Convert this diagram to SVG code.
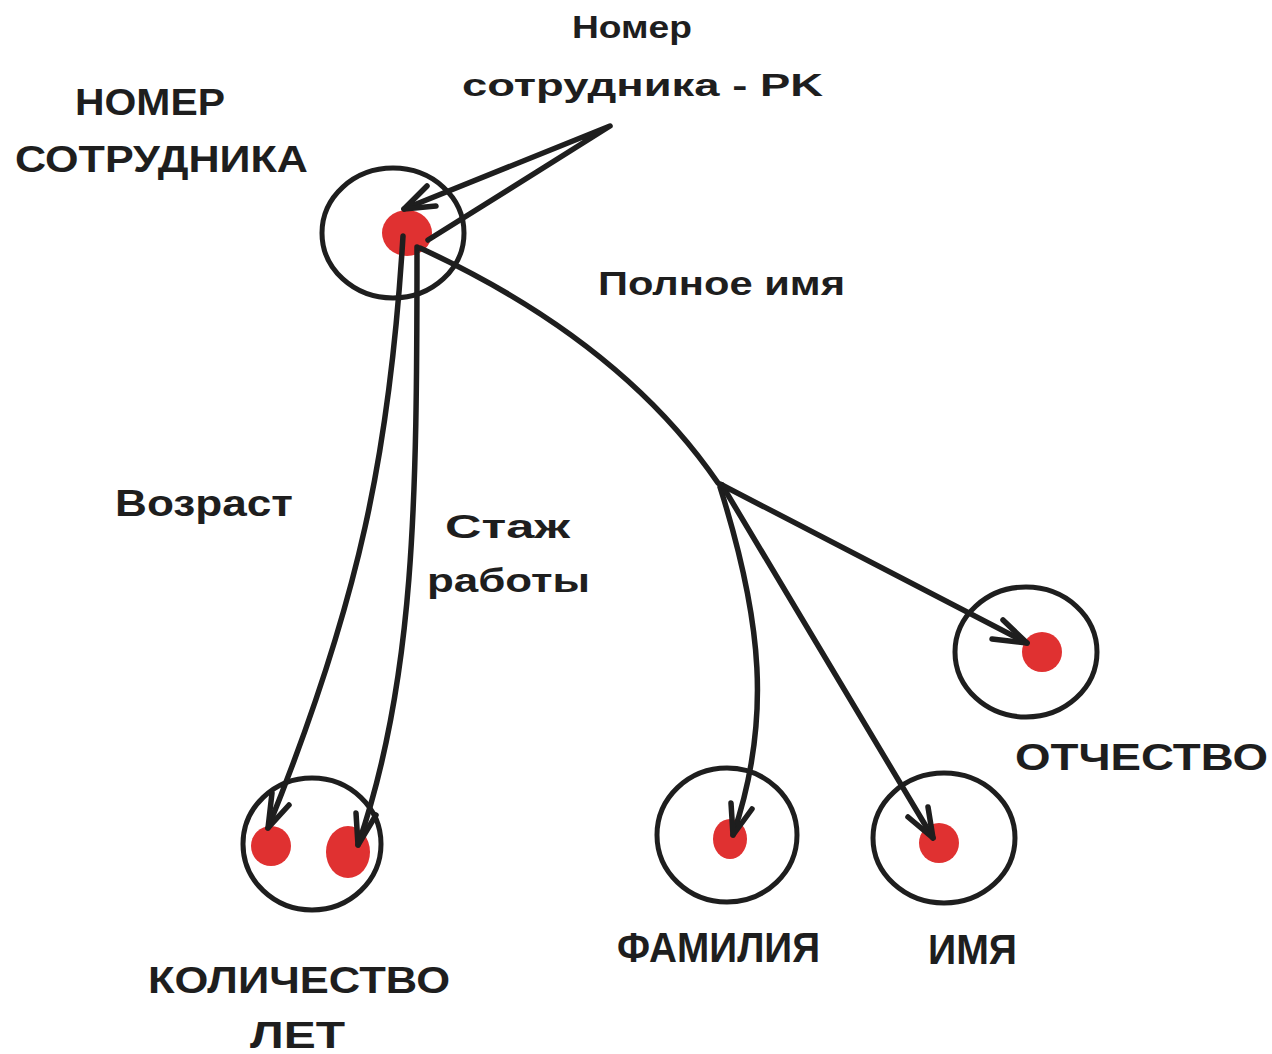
<svg xmlns="http://www.w3.org/2000/svg" width="1272" height="1054" viewBox="0 0 1272 1054">
  <style>
    .ring { fill: none; stroke: #1e1e1e; stroke-width: 5; }
    .dot { fill: #e03131; }
    .edge { fill: none; stroke: #1e1e1e; stroke-width: 5.5; stroke-linecap: round; stroke-linejoin: round; }
    .label { font-family: "Liberation Sans", "DejaVu Sans", sans-serif; font-weight: 700; fill: #1e1e1e; }
  </style>
  <rect width="1272" height="1054" fill="#ffffff"/>

  <!-- attribute holder: employee number -->
  <g id="node-employee">
    <ellipse class="ring" cx="393" cy="233" rx="71" ry="65"/>
    <ellipse class="dot" cx="407" cy="233" rx="25" ry="23"/>
    <text class="label" x="75" y="115" font-size="36" textLength="150" lengthAdjust="spacingAndGlyphs">НОМЕР</text>
    <text class="label" x="15" y="172" font-size="36" textLength="293" lengthAdjust="spacingAndGlyphs">СОТРУДНИКА</text>
  </g>

  <!-- years: age and work experience -->
  <g id="node-years">
    <ellipse class="ring" cx="312" cy="844" rx="69" ry="66"/>
    <ellipse class="dot" cx="271" cy="846" rx="20" ry="20"/>
    <ellipse class="dot" cx="348" cy="852" rx="22" ry="26"/>
    <text class="label" x="148" y="993" font-size="36" textLength="302" lengthAdjust="spacingAndGlyphs">КОЛИЧЕСТВО</text>
    <text class="label" x="250" y="1048" font-size="36" textLength="95" lengthAdjust="spacingAndGlyphs">ЛЕТ</text>
  </g>

  <g id="node-surname">
    <ellipse class="ring" cx="727" cy="835" rx="70" ry="67"/>
    <ellipse class="dot" cx="730" cy="839" rx="17" ry="20"/>
    <text class="label" x="617" y="962" font-size="42" textLength="203" lengthAdjust="spacingAndGlyphs">ФАМИЛИЯ</text>
  </g>

  <g id="node-name">
    <ellipse class="ring" cx="944" cy="838" rx="71" ry="65"/>
    <ellipse class="dot" cx="939" cy="843" rx="20" ry="20"/>
    <text class="label" x="928" y="964" font-size="42" textLength="89" lengthAdjust="spacingAndGlyphs">ИМЯ</text>
  </g>

  <g id="node-patronymic">
    <ellipse class="ring" cx="1026" cy="652" rx="71" ry="65"/>
    <ellipse class="dot" cx="1042" cy="652" rx="20" ry="20"/>
    <text class="label" x="1015" y="770" font-size="36" textLength="253" lengthAdjust="spacingAndGlyphs">ОТЧЕСТВО</text>
  </g>

  <!-- connectors and their labels -->
  <g id="connectors">
    <!-- primary key loop -->
    <path class="edge" d="M428,240 L610,126 L404,209"/>
    <path class="edge" d="M427,186 L404,209 L436,206"/>

    <!-- age -->
    <path class="edge" d="M403,236 C390,450 360,600 268,828"/>
    <path class="edge" d="M272,793 L268,828 L289,805"/>

    <!-- work experience -->
    <path class="edge" d="M417,247 C417,500 415,680 358,845"/>
    <path class="edge" d="M356,813 L358,845 L376,815"/>

    <!-- full name trunk -->
    <path class="edge" d="M420,248 Q620,340 718,483"/>

    <!-- full name branches -->
    <path class="edge" d="M720,487 C762,620 772,720 733,835"/>
    <path class="edge" d="M731,803 L733,835 L752,809"/>

    <path class="edge" d="M722,485 L933,838"/>
    <path class="edge" d="M908,817 L933,838 L928,807"/>

    <path class="edge" stroke-width="5" d="M720,484 L1027,643"/>
    <path class="edge" stroke-width="5" d="M1003,620 L1027,643 L992,639"/>

    <text class="label" x="572" y="38" font-size="32" textLength="120" lengthAdjust="spacingAndGlyphs">Номер</text>
    <text class="label" x="462" y="96" font-size="32" textLength="361" lengthAdjust="spacingAndGlyphs">сотрудника - PK</text>
    <text class="label" x="598" y="295" font-size="34" textLength="247" lengthAdjust="spacingAndGlyphs">Полное имя</text>
    <text class="label" x="115" y="516" font-size="36" textLength="178" lengthAdjust="spacingAndGlyphs">Возраст</text>
    <text class="label" x="445" y="538" font-size="34" textLength="125" lengthAdjust="spacingAndGlyphs">Стаж</text>
    <text class="label" x="427" y="592" font-size="34" textLength="163" lengthAdjust="spacingAndGlyphs">работы</text>
  </g>
</svg>
